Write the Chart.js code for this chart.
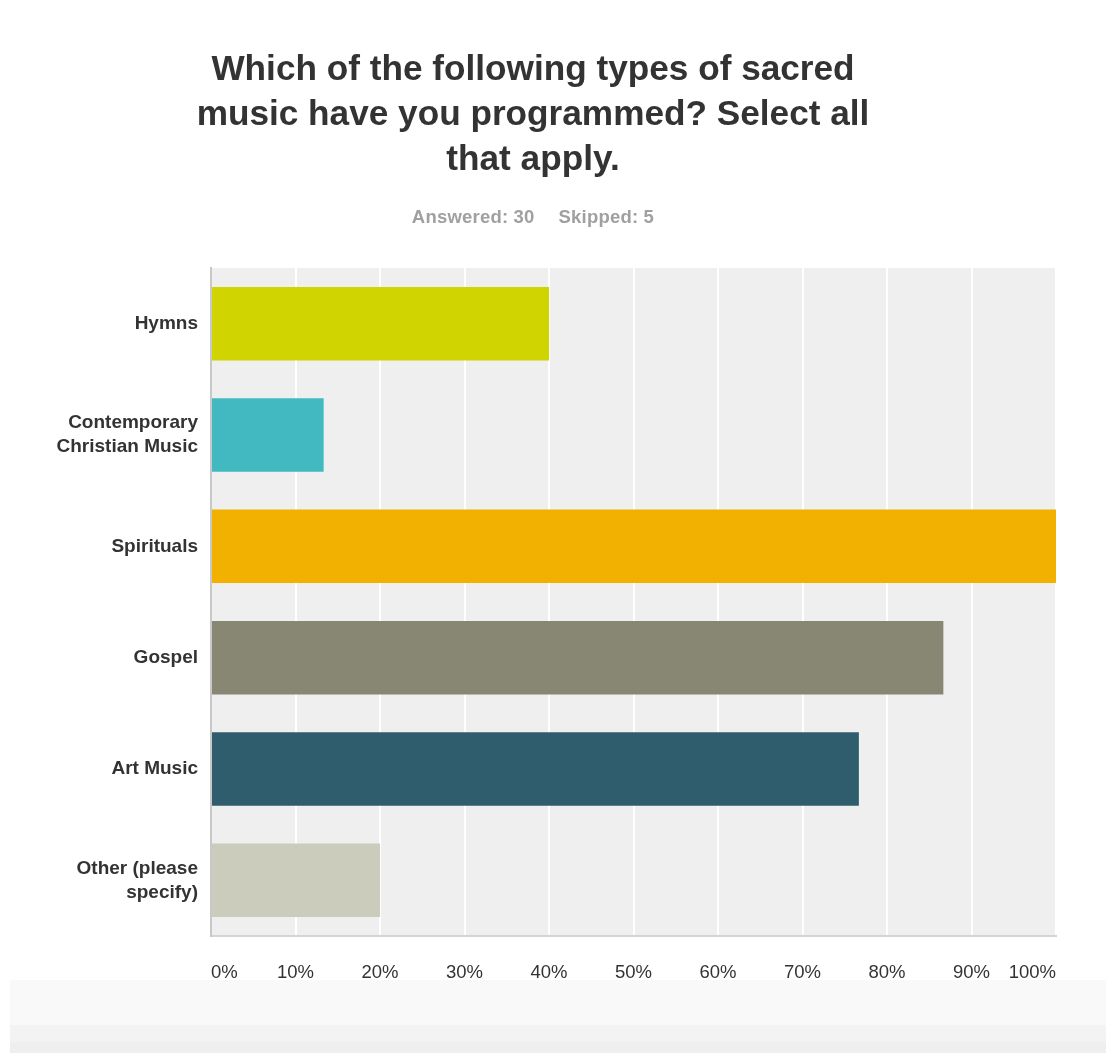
<!DOCTYPE html>
<html>
<head>
<meta charset="utf-8">
<script src="https://cdn.jsdelivr.net/npm/chart.js@4.4.1/dist/chart.umd.min.js"></script>
<style>
  html, body { margin: 0; padding: 0; background: #fff; }
  body { width: 1106px; height: 1053px; position: relative; overflow: hidden; font-family: "Liberation Sans", Arial, sans-serif; }
  #title { position: absolute; left: 133px; width: 800px; top: 45px; text-align: center; font-weight: bold; font-size: 35.2px; line-height: 45px; color: #333; }
  #sub { position: absolute; left: 133px; width: 800px; top: 206px; text-align: center; font-weight: bold; font-size: 18.5px; color: #a0a0a0; letter-spacing: 0.2px; }
  #sub span { margin: 0 12px; }
  #wrap { position: absolute; left: 0; top: 0; width: 1106px; height: 980px; }
  #foot { position: absolute; left: 10px; right: 0; top: 980px; height: 45px; background: #f9f9f9; }
  #foot2 { position: absolute; left: 10px; right: 0; top: 1025px; height: 17px; background: #f3f3f3; }
  #foot3 { position: absolute; left: 10px; right: 0; top: 1042px; height: 11px; background: #efefef; }
</style>
</head>
<body>
<div id="wrap"><canvas id="sacredChart"></canvas></div>
<div id="title">Which of the following types of sacred<br>music have you programmed? Select all<br>that apply.</div>
<div id="sub"><span>Answered: 30</span><span>Skipped: 5</span></div>
<div id="foot"></div>
<div id="foot2"></div>
<div id="foot3"></div>
<script>
const categories = ["Hymns", ["Contemporary", "Christian Music"], "Spirituals", "Gospel", "Art Music", ["Other (please", "specify)"]];
const percentages = [40.0, 13.33, 100.0, 86.67, 76.67, 20.0];
const barColors = ["#d0d400", "#42b8c1", "#f2b100", "#878774", "#2f5d6d", "#cbccbb"];

// grey panel behind the bars
const plotBackground = {
  id: "plotBackground",
  beforeDraw(chart) {
    const a = chart.chartArea;
    const ctx = chart.ctx;
    ctx.save();
    ctx.fillStyle = "#efefef";
    ctx.fillRect(a.left, a.top, a.right - a.left, a.bottom - a.top);
    ctx.restore();
  }
};

const ctx = document.getElementById("sacredChart").getContext("2d");
new Chart(ctx, {
  type: "bar",
  data: {
    labels: categories,
    datasets: [{
      data: percentages,
      backgroundColor: barColors,
      borderWidth: 0,
      categoryPercentage: 1,
      barPercentage: 0.66
    }]
  },
  options: {
    indexAxis: "y",
    responsive: true,
    maintainAspectRatio: false,
    animation: false,
    layout: { padding: { top: 268, right: 50, left: 0, bottom: 0 } },
    plugins: {
      legend: { display: false },
      tooltip: { enabled: false }
    },
    scales: {
      x: {
        min: 0,
        max: 100,
        ticks: {
          stepSize: 10,
          align: "inner",
          padding: 26,
          color: "#333",
          font: { family: "Liberation Sans", size: 18.5 },
          callback: (v) => v + "%"
        },
        grid: { color: "#ffffff", lineWidth: 2, drawTicks: false },
        border: { display: true, color: "#d4d4d4", width: 2 },
        afterFit: (scale) => { scale.height = 44; }
      },
      y: {
        ticks: {
          padding: 13,
          color: "#333",
          font: { family: "Liberation Sans", size: 19, weight: "bold", lineHeight: 1.27 }
        },
        grid: { display: false, drawTicks: false },
        border: { display: true, color: "#c8c8c8", width: 2 },
        afterFit: (scale) => { scale.width = 211; }
      }
    }
  },
  plugins: [plotBackground]
});
</script>
</body>
</html>
